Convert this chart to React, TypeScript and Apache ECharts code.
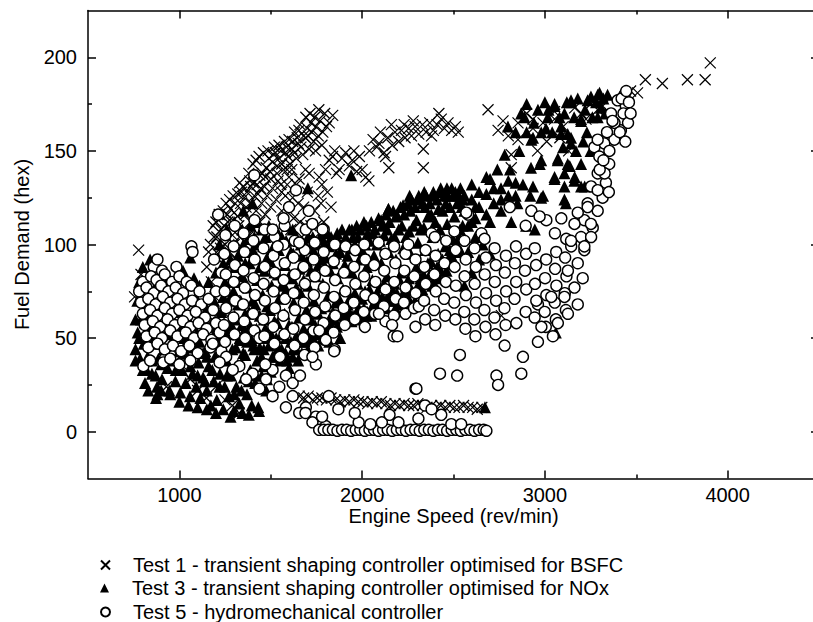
import React, { useEffect, useRef } from "react";
import * as echarts from "echarts";

const FONT = "'Liberation Sans', Arial, Helvetica, sans-serif";

const xMajor = [1000, 2000, 3000, 4000];
const xMinor = [1500, 2500, 3500];
const yMajor = [0, 50, 100, 150, 200];
const yMinor = [25, 75, 125, 175];

const seriesNames = [
  "Test 1 - transient shaping controller optimised for BSFC",
  "Test 3 - transient shaping controller optimised for NOx",
  "Test 5 - hydromechanical controller",
];

// ---------- Test 1 (crosses) ----------
const t1LowerLeft = [
  [777, 97], [755, 72], [790, 84], [812, 62], [835, 48], [870, 38], [929, 24], [905, 52], [960, 44], [1010, 36],
  [1060, 28], [1100, 22], [1148, 18], [1200, 24], [1250, 17], [1290, 14], [1327, 10], [1180, 60], [1230, 75],
  [1270, 88], [1210, 95], [1300, 70], [1350, 85],
];
const t1Band = [
  [1218, 116], [1256, 122], [1294, 126], [1349, 131], [1403, 143], [1436, 147], [1485, 150], [1545, 153], [1600, 156],
  [1654, 161], [1692, 168], [1763, 172], [1839, 169], [1747, 163], [1720, 165], [1680, 158], [1630, 160], [1575, 155],
  [1520, 152], [1460, 149], [1420, 145], [1380, 138], [1330, 133], [1275, 124], [1240, 118], [1200, 112],
  [1230, 108], [1265, 112], [1300, 117], [1335, 122], [1370, 128], [1405, 133], [1440, 137], [1475, 141], [1510, 144],
  [1545, 146], [1580, 149], [1615, 151], [1650, 154], [1690, 157], [1725, 160], [1760, 158],
  [1250, 100], [1290, 105], [1325, 110], [1360, 116], [1395, 122], [1430, 127], [1465, 131], [1500, 135], [1535, 138],
  [1570, 140], [1605, 143], [1640, 146], [1675, 148], [1710, 151], [1745, 150], [1780, 153], [1190, 104], [1160, 96],
  [1215, 92], [1280, 119], [1320, 127], [1355, 125], [1390, 131], [1425, 132], [1455, 138], [1490, 146], [1525, 149],
  [1560, 143], [1595, 147], [1630, 149], [1665, 152], [1700, 162], [1735, 155], [1770, 166], [1805, 163],
];
const t1Fill = [
  [1170, 100], [1185, 110], [1205, 104], [1225, 98], [1245, 110], [1262, 116], [1285, 112], [1305, 122], [1318, 115],
  [1340, 128], [1365, 120], [1385, 134], [1410, 126], [1445, 130], [1470, 136], [1495, 139], [1515, 148], [1535, 142],
  [1555, 150], [1585, 152], [1620, 155], [1645, 157], [1660, 164], [1705, 158], [1715, 170], [1740, 168], [1785, 160],
  [1795, 170], [1820, 165], [1150, 88], [1175, 80], [1195, 72], [1240, 64], [1270, 58], [1625, 114], [1650, 122],
  [1690, 110], [1710, 138], [1750, 110], [1775, 122], [1690, 140], [1655, 135], [1615, 140],
  [1300, 100], [1330, 104], [1360, 108], [1390, 112], [1420, 118], [1450, 122], [1480, 126], [1510, 130], [1540, 134],
  [1275, 96], [1310, 92], [1345, 98], [1375, 104], [1405, 108], [1440, 112], [1470, 116], [1500, 120], [1530, 124],
  [1560, 128], [1590, 132], [1560, 118], [1580, 126], [1555, 132], [1590, 140],
];
const t1Strip = [
  [1590, 100], [1610, 108], [1600, 118], [1620, 125], [1640, 132], [1600, 136], [1660, 112], [1680, 120], [1670, 104],
  [1700, 128], [1720, 110], [1740, 118], [1760, 126], [1735, 103], [1780, 132], [1790, 112], [1800, 140], [1765, 136],
  [1820, 145], [1838, 147], [1860, 138], [1874, 140], [1890, 146], [1910, 149], [1930, 142], [1946, 145], [1970, 139],
  [2000, 140], [2020, 136], [2037, 134], [1985, 147], [1955, 150], [1850, 150], [1810, 128], [1830, 120],
];
const t1Upper = [
  [2040, 150], [2060, 156], [2080, 152], [2092, 154], [2100, 160], [2120, 149], [2128, 147], [2146, 141], [2140, 157],
  [2165, 153], [2180, 160], [2200, 155], [2215, 161], [2235, 157], [2255, 162], [2270, 158], [2290, 163], [2310, 159],
  [2330, 164], [2350, 160], [2370, 165], [2390, 161], [2410, 164], [2433, 167], [2450, 162], [2470, 165], [2490, 161],
  [2510, 163], [2526, 160], [2420, 170], [2380, 158], [2335, 151], [2335, 141], [2160, 164], [2230, 164], [2280, 166],
];
const t1Right = [
  [2689, 172], [2744, 161], [2771, 166], [2800, 158], [2853, 165], [2853, 156], [2816, 148], [2816, 141], [2935, 162],
  [2935, 167], [2900, 170], [2990, 165], [3053, 167], [3053, 171], [3100, 163], [3163, 173], [3200, 170], [3225, 167],
  [3260, 176], [3289, 172], [3316, 174], [3469, 182], [2762, 62], [2960, 150], [3010, 155], [3082, 157], [3130, 150],
];
const t1Tail = [[3507, 181], [3550, 188], [3643, 186], [3780, 188], [3877, 188], [3905, 197]];
const t1Bottom = [
  [1656, 19], [1680, 18], [1705, 19], [1730, 17], [1755, 18], [1780, 18], [1805, 17], [1830, 18], [1855, 17], [1880, 16],
  [1905, 17], [1930, 16], [1955, 17], [1980, 16], [2005, 16], [2030, 15], [2055, 16], [2080, 15], [2105, 16], [2130, 15],
  [2155, 14], [2180, 15], [2205, 14], [2230, 15], [2255, 14], [2280, 14], [2305, 15], [2330, 14], [2355, 13], [2380, 14],
  [2405, 13], [2430, 14], [2455, 13], [2480, 14], [2505, 13], [2530, 13], [2555, 14], [2580, 13], [2605, 13], [2630, 12],
  [2655, 13],
];

// ---------- Test 3 (triangles) ----------
const t3LowerLeft = [
  [760, 44], [772, 53], [785, 39], [790, 60], [800, 33], [805, 47], [812, 26], [818, 68], [826, 40], [835, 55], [842, 75],
  [850, 31], [858, 47], [865, 62], [872, 18], [878, 24], [885, 39], [895, 52], [905, 28], [915, 44], [925, 58], [935, 34],
  [945, 22], [958, 48], [965, 38], [978, 27], [988, 55], [998, 43], [1005, 21], [1015, 33], [1025, 50], [1035, 26],
  [1045, 40], [1058, 19], [1065, 57], [1072, 31], [1085, 46], [1092, 24], [1105, 37], [1115, 18], [1122, 52], [1130, 29],
  [1142, 43], [1150, 22], [1160, 35], [1172, 14], [1178, 49], [1188, 27], [1195, 40], [1205, 17], [1212, 56], [1222, 31],
  [1230, 45], [1240, 12], [1248, 24], [1258, 38], [1265, 52], [1272, 19], [1282, 30], [1290, 44], [1298, 11], [1305, 60],
  [1312, 24], [1320, 36], [1328, 15], [1336, 49], [1345, 10], [1352, 29], [1360, 41], [1370, 20], [1378, 55], [1388, 33],
  [1396, 14], [1405, 46], [1415, 26], [1425, 38], [1432, 13], [1440, 52], [1450, 30], [1462, 44], [1475, 22], [1490, 36],
  [1505, 48], [1060, 93], [1080, 82], [1110, 78], [880, 20], [1436, 11],
];
const t3LowerFill = [
  [950, 20], [1000, 16], [1050, 14], [1100, 13], [1150, 12], [1200, 10], [1280, 8], [1380, 9], [900, 36], [940, 40],
  [980, 33], [1020, 42], [1060, 35], [1100, 30], [1140, 27], [1180, 33], [1220, 24], [1260, 30], [1300, 20], [1340, 22],
  [1380, 27], [1420, 30], [1460, 35], [1480, 28], [1500, 32], [1520, 40], [1060, 45], [1095, 53], [1130, 42], [1170, 56],
  [1215, 48], [1250, 55], [1285, 57], [1320, 52], [1355, 54], [1395, 49], [1440, 45], [1470, 50], [870, 30], [900, 22],
  [830, 22], [850, 38], [780, 50], [820, 33], [760, 38], [1110, 62], [1150, 66], [1190, 70], [1230, 64], [1270, 70],
];
const t3LeftCluster = [
  [800, 88], [840, 92], [870, 78], [900, 66], [940, 82], [980, 64], [1020, 86], [1050, 70], [1090, 72], [1130, 60],
  [1160, 80], [1200, 66], [1240, 72], [830, 60], [860, 50], [930, 52], [1000, 56], [1040, 48], [1110, 48], [1150, 40],
  [1190, 52], [1220, 40], [780, 80], [760, 60], [770, 70],
];
const t3Band = [
  [1302, 62], [1296, 75], [1305, 88], [1298, 100], [1342, 57], [1336, 70], [1345, 83], [1338, 96], [1344, 108],
  [1382, 64], [1376, 77], [1385, 90], [1378, 103], [1422, 55], [1416, 68], [1425, 81], [1418, 94], [1424, 112],
  [1462, 60], [1456, 73], [1465, 86], [1458, 99], [1502, 52], [1496, 65], [1505, 78], [1498, 91], [1504, 105],
  [1542, 45], [1536, 58], [1545, 71], [1538, 84], [1544, 97], [1582, 50], [1576, 63], [1585, 76], [1578, 89], [1584, 102],
  [1622, 44], [1616, 56], [1625, 69], [1618, 82], [1624, 95], [1620, 108], [1662, 48], [1656, 61], [1665, 74], [1658, 87],
  [1664, 100], [1702, 52], [1696, 65], [1705, 78], [1698, 91], [1704, 104], [1742, 57], [1736, 70], [1745, 83], [1738, 96],
  [1782, 53], [1776, 66], [1785, 79], [1778, 92], [1784, 103], [1822, 60], [1816, 73], [1825, 86], [1818, 99],
  [1862, 56], [1856, 69], [1865, 82], [1858, 95], [1864, 106], [1902, 63], [1896, 76], [1905, 89], [1898, 101],
  [1942, 59], [1936, 72], [1945, 85], [1938, 98], [1944, 108], [1982, 66], [1976, 79], [1985, 92], [1978, 104],
  [2022, 62], [2016, 75], [2025, 88], [2018, 100], [2024, 110], [2062, 68], [2056, 81], [2065, 94], [2058, 106],
  [2102, 64], [2096, 77], [2105, 90], [2098, 102], [2104, 113], [2142, 70], [2136, 83], [2145, 96], [2138, 108], [2144, 119],
  [2182, 66], [2176, 79], [2185, 92], [2178, 104], [2184, 115], [2222, 72], [2216, 85], [2225, 98], [2218, 110], [2224, 121],
  [2262, 69], [2256, 82], [2265, 95], [2258, 107], [2264, 118], [2260, 126], [2302, 75], [2296, 88], [2305, 101], [2298, 113],
  [2304, 124], [2342, 71], [2336, 84], [2345, 97], [2338, 109], [2344, 120], [2340, 128], [2382, 78], [2376, 91], [2385, 104],
  [2378, 116], [2384, 126], [2422, 82], [2416, 95], [2425, 108], [2418, 119], [2424, 128], [2462, 86], [2456, 99], [2465, 111],
  [2458, 122], [2464, 130], [2502, 90], [2496, 103], [2505, 115], [2498, 126], [2542, 96], [2536, 108], [2545, 120], [2538, 130],
  [1320, 68], [1360, 63], [1400, 70], [1440, 62], [1480, 67], [1520, 59], [1560, 52], [1600, 57], [1640, 51], [1680, 55],
  [1720, 60], [1760, 63], [1800, 67], [1840, 64], [1880, 70], [1920, 68], [1960, 74], [2000, 71], [2040, 76], [2080, 74],
  [2120, 79], [2160, 77], [2200, 82], [2240, 78], [2280, 84], [2320, 82], [2360, 90], [2400, 86], [2440, 92], [2480, 97],
  [2520, 100], [1320, 94], [1360, 90], [1400, 97], [1440, 88], [1480, 93], [1520, 85], [1560, 78], [1600, 83], [1640, 77],
  [1680, 81], [1720, 86], [1760, 89], [1800, 93], [1840, 90], [1880, 96], [1920, 94], [1960, 100], [2000, 97], [2040, 102],
  [2080, 100], [2120, 105], [2160, 103], [2200, 108], [2240, 104], [2280, 110], [2320, 108], [2360, 115], [2400, 112],
  [2440, 118], [2480, 120], [2520, 122], [1550, 38], [1600, 34], [1650, 38], [1700, 42], [1760, 46], [1820, 48], [1880, 50],
  [1580, 42], [1620, 40], [1220, 100], [1260, 108], [1300, 112], [1350, 118], [1400, 122], [1240, 90], [1200, 85],
  [1250, 80], [1280, 92], [1703, 130], [1940, 137], [2144, 119],
];
const t3BandFill = [
  [1310, 45], [1330, 50], [1350, 42], [1370, 48], [1390, 56], [1410, 44], [1430, 50], [1450, 40], [1470, 55], [1490, 46],
  [1510, 40], [1530, 50], [1560, 44], [1590, 38], [1610, 48], [1640, 44], [1670, 42], [1690, 48], [1715, 46], [1730, 50],
  [1750, 52], [1790, 56], [1810, 54], [1830, 57], [1850, 60], [1870, 62], [1890, 58], [1910, 60], [1930, 64], [1950, 62],
  [1970, 64], [1990, 60], [2010, 66], [2030, 64], [2050, 62], [2070, 70], [2090, 68], [2110, 72], [2130, 66], [2150, 74],
  [2170, 70], [2190, 74], [2210, 68], [2230, 75], [2250, 72], [2270, 76], [2290, 70], [2310, 79], [2330, 76], [2350, 80],
  [2370, 84], [2390, 80], [2410, 88], [2430, 86], [2450, 90], [2470, 92], [2490, 94], [2510, 96], [2530, 104], [2550, 110],
  [1310, 80], [1330, 88], [1350, 100], [1370, 96], [1390, 110], [1410, 104], [1430, 100], [1450, 108], [1470, 104],
  [1490, 110], [1510, 98], [1530, 108], [1560, 104], [1590, 110], [1610, 96], [1640, 104], [1670, 94], [1690, 100],
  [1715, 98], [1730, 104], [1750, 100], [1770, 104], [1790, 100], [1810, 106], [1830, 104], [1850, 100], [1870, 102],
  [1890, 108], [1910, 104], [1930, 108], [1950, 104], [1970, 110], [1990, 108], [2010, 112], [2030, 106], [2050, 112],
  [2070, 108], [2090, 114], [2110, 110], [2130, 116], [2150, 112], [2170, 118], [2190, 116], [2210, 120], [2230, 116],
  [2250, 122], [2270, 124], [2290, 120], [2310, 126], [2330, 122], [2350, 126], [2370, 122], [2390, 128], [2410, 124],
  [2430, 130], [2450, 126], [2470, 126], [2490, 130], [2510, 128], [2530, 126], [2550, 124],
];
const t3Right = [
  [2889, 168], [2962, 172], [3053, 174], [3107, 170], [3143, 176], [3198, 167], [3252, 179], [3299, 181], [3343, 180],
  [2935, 157], [3006, 162], [3089, 159], [3143, 157], [3289, 168], [3307, 173], [2798, 163], [2809, 140], [2924, 141],
  [2972, 143], [3071, 146], [3136, 142], [3198, 143], [3053, 135], [3107, 138], [3163, 136], [2990, 126], [3107, 124],
  [3218, 131], [2816, 112], [2897, 110], [2945, 108], [2980, 125], [3115, 122], [3070, 145], [3053, 175], [3143, 177],
  [3234, 177], [3289, 180], [3198, 166], [3125, 159], [3143, 154], [3089, 163], [3016, 168], [2926, 156], [2980, 145],
  [3125, 143], [3161, 134], [3198, 131], [3053, 136], [3107, 131], [2935, 131], [2560, 118], [2600, 124], [2640, 120],
  [2680, 127], [2720, 122], [2760, 130], [2800, 126], [2840, 133], [2580, 110], [2620, 114], [2700, 112], [2760, 118],
  [2850, 122], [2700, 135], [2740, 140], [2780, 148], [2860, 150], [2900, 160], [2840, 160], [2870, 170], [2560, 78],
  [2600, 85], [2640, 92], [2580, 96], [2620, 104], [2660, 100], [2700, 95], [3060, 53], [2672, 13],
  [2560, 126], [2600, 112], [2640, 128], [2680, 116], [2720, 130], [2760, 124], [2800, 134], [2840, 126], [2880, 132],
  [2920, 126], [2600, 132], [2680, 136], [2620, 120], [2900, 175], [2940, 165], [2980, 160], [3020, 172], [3040, 160],
  [3080, 168], [3120, 176], [3160, 168], [3180, 178], [3220, 172], [3260, 168], [3280, 176], [3320, 178], [3330, 170],
  [3000, 176], [3100, 152], [3170, 150], [3230, 160], [3250, 150], [3210, 155],
];

// ---------- Test 5 (circles) ----------
const t5Left = [
  [860, 88], [880, 92], [905, 86], [984, 88], [800, 80], [845, 83], [875, 81], [920, 84], [960, 80], [1000, 83], [1040, 80],
  [780, 75], [820, 77], [860, 74], [900, 78], [940, 75], [980, 77], [1020, 74], [1065, 78], [1110, 75], [790, 69], [830, 71],
  [870, 68], [910, 72], [950, 69], [990, 71], [1030, 68], [1070, 70], [1120, 68], [1160, 71], [800, 63], [840, 65], [880, 62],
  [920, 66], [960, 63], [1000, 65], [1045, 62], [1090, 64], [1140, 61], [1185, 65], [810, 57], [855, 59], [895, 56], [935, 60],
  [975, 57], [1020, 59], [1060, 56], [1105, 58], [1150, 55], [1200, 58], [820, 51], [865, 53], [905, 50], [950, 54], [990, 51],
  [1035, 53], [1080, 50], [1130, 52], [1175, 49], [1220, 53], [830, 45], [880, 47], [920, 44], [965, 46], [1010, 43],
  [1055, 46], [1100, 42], [1170, 45], [1230, 43], [803, 35], [840, 38], [912, 37], [950, 39], [1000, 36], [1060, 38],
  [1066, 99], [1072, 96], [1200, 75], [1230, 85], [1190, 92], [1212, 116],
];
const t5Mid = [
  [1250, 48], [1244, 57], [1256, 66], [1248, 75], [1254, 84], [1246, 95], [1252, 105], [1302, 52], [1296, 61], [1305, 70],
  [1298, 80], [1304, 89], [1297, 99], [1303, 110], [1355, 59], [1349, 68], [1358, 77], [1351, 86], [1357, 96], [1352, 106],
  [1360, 50], [1410, 54], [1404, 63], [1414, 73], [1407, 82], [1412, 92], [1405, 102], [1411, 113], [1410, 137], [1438, 50],
  [1465, 51], [1459, 60], [1468, 70], [1461, 79], [1467, 88], [1460, 98], [1466, 108], [1520, 47], [1514, 56], [1523, 66],
  [1516, 75], [1522, 85], [1515, 94], [1521, 104], [1575, 52], [1569, 62], [1578, 71], [1571, 81], [1577, 90], [1570, 100],
  [1576, 110], [1630, 46], [1624, 55], [1633, 65], [1626, 74], [1632, 84], [1625, 93], [1631, 102], [1638, 129], [1685, 41],
  [1679, 50], [1688, 60], [1681, 69], [1687, 79], [1680, 88], [1686, 97], [1692, 108], [1708, 118], [1740, 45], [1734, 54],
  [1743, 64], [1736, 73], [1742, 83], [1735, 92], [1741, 101], [1728, 111], [1795, 49], [1789, 58], [1798, 67], [1791, 77],
  [1797, 86], [1790, 96], [1790, 108], [1850, 44], [1844, 53], [1853, 62], [1846, 72], [1852, 81], [1845, 91], [1851, 100],
  [1905, 57], [1899, 66], [1908, 75], [1901, 85], [1910, 99], [1960, 60], [1954, 69], [1963, 79], [1956, 88], [1962, 97],
  [2015, 56], [2009, 64], [2018, 73], [2011, 83], [2017, 92], [2012, 100], [2070, 63], [2064, 71], [2073, 80], [2066, 89],
  [2090, 101], [2128, 59], [2119, 67], [2128, 76], [2121, 86], [2127, 95], [2173, 51], [2174, 62], [2183, 71], [2176, 80],
  [2182, 90], [2175, 99], [2237, 63], [2229, 69], [2238, 77], [2231, 86], [2237, 95], [2253, 100], [2292, 56], [2284, 66],
  [2293, 74], [2286, 83], [2292, 92], [2310, 67], [2345, 60], [2339, 70], [2348, 79], [2341, 88], [2347, 97], [2380, 106],
  [2400, 57], [2394, 65], [2403, 75], [2396, 84], [2402, 94], [2398, 104], [2455, 62], [2449, 71], [2458, 80], [2451, 90],
  [2460, 102], [1510, 108], [1538, 99], [1656, 101], [1783, 108], [1765, 54], [1801, 49], [1847, 43], [1747, 36], [1728, 40],
  [2092, 63], [2164, 57], [1600, 120], [1570, 114],
];
const t5Tail = [
  [1183, 47], [1256, 40], [1328, 35], [1401, 31], [1474, 28], [1547, 24], [1620, 19], [1692, 13], [1747, 8], [1801, 3],
  [1220, 37], [1292, 33], [1365, 28], [1438, 23], [1510, 19], [1583, 13], [1656, 10], [1728, 5], [1765, 1], [1510, 33],
  [1583, 30], [1620, 26], [1470, 36], [1550, 40], [1660, 30],
];
const t5Bottom = [
  [1790, 1], [1815, 1], [1840, 1], [1865, 0.5], [1890, 1], [1915, 1], [1940, 0.5], [1965, 1], [1990, 1], [2015, 0.5],
  [2040, 1], [2065, 1], [2090, 0.5], [2115, 1], [2140, 1], [2165, 0.5], [2190, 1], [2215, 1], [2240, 0.5], [2265, 1],
  [2290, 1], [2315, 0.5], [2340, 1], [2365, 1], [2390, 0.5], [2415, 1], [2440, 1], [2465, 0.5], [2490, 1], [2515, 1],
  [2540, 0.5], [2565, 1], [2590, 1], [2615, 0.5], [2640, 1], [2665, 1], [2680, 0.5],
];
const t5Low = [
  [1690, 10], [1781, 8], [1981, 5], [2045, 4], [2108, 5], [2199, 5], [2308, 7], [2433, 9], [2488, 4], [2542, 4], [1817, 19],
  [2344, 14], [2292, 23], [2297, 23], [2426, 31], [2520, 30], [2535, 41], [2193, 51], [2735, 30], [2744, 25], [2871, 31],
  [2780, 46], [2880, 40], [2962, 48], [3044, 51], [1870, 12], [1960, 10], [2150, 9], [2380, 12],
];
const t5Right = [
  [2510, 60], [2504, 69], [2513, 78], [2506, 88], [2512, 97], [2505, 107], [2580, 116], [2565, 55], [2559, 64], [2568, 73],
  [2561, 83], [2567, 92], [2570, 117], [2560, 102], [2620, 51], [2614, 60], [2623, 69], [2616, 79], [2622, 88], [2615, 98],
  [2653, 106], [2675, 56], [2669, 65], [2678, 74], [2671, 84], [2677, 93], [2670, 103], [2730, 52], [2724, 61], [2733, 70],
  [2726, 80], [2732, 89], [2725, 98], [2785, 57], [2779, 66], [2788, 75], [2781, 85], [2787, 94], [2808, 120], [2844, 58],
  [2834, 71], [2843, 80], [2836, 90], [2842, 99], [2895, 64], [2898, 76], [2891, 86], [2897, 95], [2895, 110], [2944, 61],
  [2962, 68], [2953, 70], [2946, 79], [2952, 89], [2945, 98], [2926, 118], [3005, 56], [2999, 64], [3008, 73], [3001, 82],
  [3007, 92], [3008, 113], [3060, 60], [3054, 69], [3063, 78], [3056, 87], [3062, 96], [3055, 106], [3115, 65], [3109, 74],
  [3118, 83], [3111, 93], [3117, 103], [3090, 114], [2971, 115],
];
const t5Column = [
  [3436, 180], [3398, 177], [3443, 174], [3362, 170], [3416, 161], [3380, 156], [3325, 154], [3271, 152], [3298, 147],
  [3352, 143], [3289, 138], [3334, 133], [3253, 131], [3316, 125], [3234, 122], [3289, 118], [3216, 113], [3262, 109],
  [3162, 111], [3198, 104], [3253, 104], [3144, 99], [3216, 97], [3180, 90], [3126, 86], [3207, 82], [3162, 77], [3107, 72],
  [3180, 68], [3126, 63], [3071, 58], [3035, 72], [2981, 56], [3381, 165], [3289, 156], [3353, 150], [3327, 138], [3289, 129],
  [3234, 120], [3252, 111], [3180, 117], [3143, 102], [3216, 99], [3420, 178], [3445, 182], [3460, 176], [3430, 170],
  [3455, 165], [3410, 160], [3440, 155], [3469, 170], [3340, 160], [3370, 166], [3300, 140], [3350, 128], [3320, 145],
];

const test1 = [...t1LowerLeft, ...t1Band, ...t1Fill, ...t1Strip, ...t1Upper, ...t1Right, ...t1Tail, ...t1Bottom];
const test3 = [...t3LowerLeft, ...t3LowerFill, ...t3LeftCluster, ...t3Band, ...t3BandFill, ...t3Right];
const test5 = [...t5Left, ...t5Mid, ...t5Tail, ...t5Bottom, ...t5Low, ...t5Right, ...t5Column];

const CROSS = "path://M0,0L10,10M10,0L0,10";

function makeAxis(kind: "x" | "y", position: string, ticks: number[], len: number, opts: any = {}) {
  const range = kind === "x" ? { min: 500, max: 4500 } : { min: -25, max: 225 };
  return {
    type: "value",
    position,
    ...range,
    splitLine: { show: false },
    axisLine: { show: !!opts.line, onZero: false, lineStyle: { color: "#000", width: 1.5 } },
    axisTick: { show: true, inside: true, length: len, customValues: ticks, lineStyle: { color: "#000", width: 1.5 } },
    axisLabel: opts.label
      ? {
          show: true,
          customValues: ticks,
          fontSize: 20,
          color: "#000",
          fontFamily: FONT,
          margin: opts.margin,
          formatter: (v: number) => String(v),
        }
      : { show: false },
    ...(opts.extra || {}),
  };
}

const legendRowTops = [555, 578, 602];

export default function App() {
  const ref = useRef<HTMLDivElement>(null);
  useEffect(() => {
    if (!ref.current) return;
    const chart = echarts.init(ref.current, null, { renderer: "svg" });
    const legends = seriesNames.map((name, i) => ({
      orient: "horizontal",
      left: 100,
      top: legendRowTops[i],
      padding: 0,
      itemWidth: 9,
      itemHeight: 9,
      selectedMode: false,
      textStyle: { fontSize: 20, lineHeight: 20, color: "#000", fontFamily: FONT, padding: [0, 0, 0, 18] },
      data: [name],
    }));
    const option: any = {
      animation: false,
      backgroundColor: "#fff",
      grid: { left: 88, top: 10.5, width: 731, height: 468, containLabel: false, outerBoundsMode: "none" },
      xAxis: [
        makeAxis("x", "bottom", xMajor, 8, {
          line: true,
          label: true,
          margin: 6,
          extra: {
            name: "Engine Speed (rev/min)",
            nameLocation: "middle",
            nameGap: 27,
            nameMoveOverlap: false,
            nameTextStyle: { fontSize: 20, color: "#000", fontFamily: FONT },
          },
        }),
        makeAxis("x", "bottom", xMinor, 4),
        makeAxis("x", "top", xMajor, 8, { line: true }),
        makeAxis("x", "top", xMinor, 4),
      ],
      yAxis: [
        makeAxis("y", "left", yMajor, 8, {
          line: true,
          label: true,
          margin: 11,
          extra: {
            name: "Fuel Demand (hex)",
            nameLocation: "middle",
            nameRotate: 90,
            nameGap: 56,
            nameMoveOverlap: false,
            nameTextStyle: { fontSize: 20, color: "#000", fontFamily: FONT },
          },
        }),
        makeAxis("y", "left", yMinor, 4),
        makeAxis("y", "right", yMajor, 8, { line: true }),
        makeAxis("y", "right", yMinor, 4),
      ],
      legend: legends,
      series: [
        {
          name: seriesNames[0],
          type: "scatter",
          data: test1,
          symbol: CROSS,
          symbolSize: 11,
          itemStyle: { color: "rgba(0,0,0,0)", borderColor: "#000", borderWidth: 1.2, opacity: 1 },
        },
        {
          name: seriesNames[1],
          type: "scatter",
          data: test3,
          symbol: "triangle",
          symbolSize: 12,
          itemStyle: { color: "#000", opacity: 1 },
        },
        {
          name: seriesNames[2],
          type: "scatter",
          data: test5,
          symbol: "circle",
          symbolSize: 11,
          itemStyle: { color: "#fff", borderColor: "#000", borderWidth: 1.4, opacity: 1 },
        },
      ],
    };
    chart.setOption(option);
    return () => chart.dispose();
  }, []);
  return <div ref={ref} style={{ position: "fixed", left: 0, top: 0, width: 813, height: 622, background: "#fff" }} />;
}
